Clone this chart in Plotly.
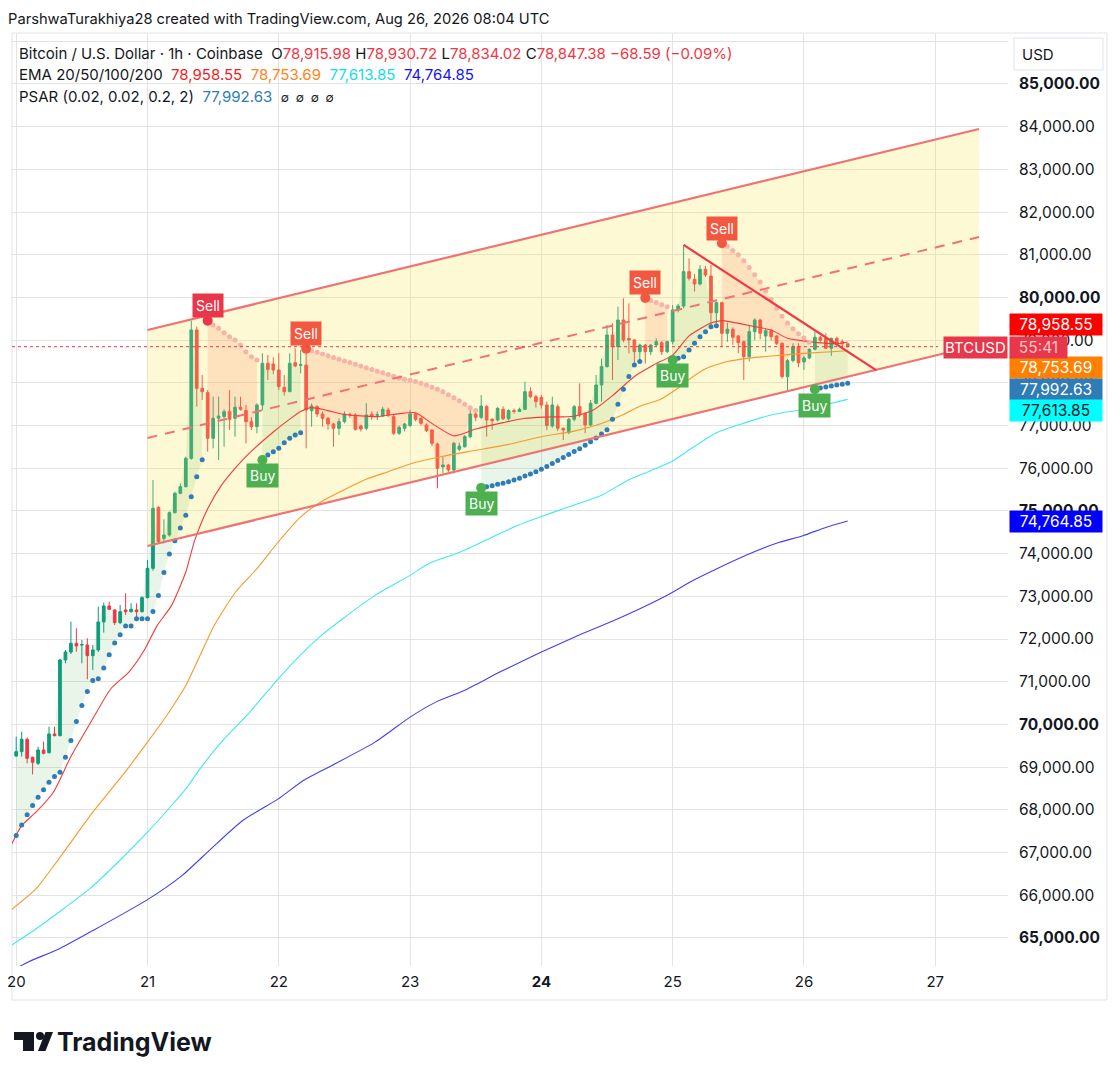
import datetime as dt
import plotly.graph_objects as go

# BTC/USD 1h candles (Coinbase), Aug 20 00:00 -> Aug 26 08:00 UTC
start = dt.datetime(2026, 8, 20)

opens = [69260, 69363, 69652, 69230, 69090, 69402, 69340, 69777, 69738, 71510,
         71697, 71900, 71860, 71861, 71611, 71744, 72400, 72775, 72681, 72384,
         72681, 72642, 72681, 72642, 72970, 73657, 75085, 74359, 74437, 74960,
         75413, 75569, 76233, 79239, 77872, 77771, 76701, 77170, 77209, 77326,
         77170, 77428, 77350, 77092, 76975, 77482, 78458, 78442, 78302, 77895,
         77795, 78474, 78410, 78419, 77349, 77443, 77271, 77170, 77037, 76936,
         77092, 77260, 77248, 76990, 76936, 77264, 77240, 77225, 77365, 77209,
         76819, 76936, 77000, 77271, 77170, 77014, 76896, 76569, 76030, 76077,
         75960, 76444, 76506, 76740, 77271, 77193, 77443, 77146, 77131, 77380,
         77160, 77350, 77330, 77380, 77794, 77677, 77660, 77480, 76990, 77443,
         76936, 76834, 77146, 77443, 77287, 77014, 77521, 77950, 78380, 79122,
         78848, 79473, 79040, 79005, 78731, 78887, 78731, 78887, 78942, 78731,
         78965, 79707, 79801, 80605, 80426, 80316, 80660, 80504, 79645, 79879,
         79161, 79255, 79098, 78965, 78614, 79200, 79473, 79098, 79223, 79098,
         78927, 78146, 78521, 78849, 78490, 78584, 78786, 79067, 79040, 78810,
         79044, 78966, 78915.98]
highs = [69714, 69831, 69700, 69250, 69480, 69597, 69948, 69948, 71540, 71744,
         72408, 72252, 71978, 72017, 71861, 72759, 72853, 72876, 72700, 72798,
         73071, 72837, 72837, 73000, 73852, 75725, 75110, 74804, 74990, 75452,
         75647, 76272, 79457, 79317, 78185, 77833, 77677, 77677, 77380, 77833,
         77677, 77677, 77482, 77200, 77520, 78692, 78653, 78600, 78692, 78185,
         78692, 78810, 78770, 78770, 77520, 77480, 77330, 77200, 77060, 77170,
         77330, 77300, 77290, 77020, 77521, 77330, 77330, 77440, 77420, 77250,
         77000, 77060, 77370, 77300, 77200, 77050, 76920, 76600, 76270, 76100,
         76620, 76600, 76780, 77400, 77300, 77716, 77480, 77180, 77430, 77450,
         77380, 77400, 77420, 78029, 77900, 77720, 77720, 77560, 77677, 77500,
         76960, 77180, 77480, 77990, 77300, 77600, 78185, 78570, 79356, 79395,
         79785, 79980, 79863, 79020, 78920, 78910, 78900, 79044, 78980, 78990,
         79824, 79850, 81230, 80917, 80550, 80760, 80740, 80760, 79900, 79900,
         79410, 79300, 79120, 78990, 79356, 79512, 79500, 79278, 79260, 79120,
         78950, 78560, 78927, 78927, 78630, 78810, 79200, 79100, 79161, 79060,
         79083, 79020, 78930.72]
lows = [69246, 69246, 69090, 68832, 69050, 69300, 69320, 69720, 69720, 71432,
        71650, 71705, 71432, 71057, 71276, 71700, 72150, 72680, 72330, 72350,
        72564, 72620, 72486, 72620, 72950, 73600, 74242, 74242, 74400, 74940,
        75390, 75550, 76200, 77443, 77600, 76389, 76467, 76194, 76506, 76897,
        76740, 77350, 76584, 76897, 76818, 77365, 78068, 78200, 77830, 77700,
        77780, 78370, 78220, 76467, 76975, 77200, 76975, 76900, 76506, 76780,
        77050, 77180, 76880, 76860, 76890, 77130, 77130, 77200, 77200, 76780,
        76780, 76860, 76970, 77100, 77000, 76850, 76520, 75530, 75880, 75880,
        75880, 76400, 76480, 76700, 77100, 77150, 76740, 76900, 77100, 77130,
        77120, 77280, 77330, 77360, 77640, 77420, 77400, 76890, 76950, 76870,
        76662, 76800, 77100, 77200, 76820, 76990, 77500, 77560, 78360, 78068,
        78536, 78950, 78692, 78458, 78536, 78450, 78650, 78850, 78650, 78700,
        78900, 79650, 79750, 80400, 80137, 80280, 80480, 79356, 79400, 78849,
        78960, 78890, 78692, 78068, 78500, 79000, 79020, 78731, 78990, 78888,
        78100, 77818, 78480, 78365, 78302, 78560, 78760, 78950, 78790, 78630,
        78880, 78860, 78834.02]
closes = [69363, 69652, 69207, 69113, 69402, 69324, 69777, 69738, 71510, 71697,
          71900, 71838, 71870, 71611, 71744, 72400, 72775, 72697, 72384, 72642,
          72642, 72697, 72642, 72970, 73657, 75062, 74281, 74437, 74960, 75413,
          75569, 76233, 79239, 77872, 77794, 76701, 77170, 77224, 77326, 77146,
          77428, 77381, 77092, 76975, 77482, 78458, 78317, 78302, 77911, 77794,
          78458, 78396, 78430, 77365, 77459, 77271, 77170, 77037, 76936, 77092,
          77271, 77248, 76912, 76920, 77248, 77209, 77255, 77381, 77248, 76819,
          76959, 77037, 77271, 77147, 77053, 76881, 76584, 75999, 76077, 75960,
          76584, 76522, 76740, 77271, 77193, 77459, 77131, 77115, 77404, 77160,
          77350, 77330, 77380, 77794, 77677, 77560, 77480, 77000, 77482, 76936,
          76897, 77146, 77443, 77248, 77014, 77521, 77950, 78380, 79122, 78848,
          79473, 79005, 79005, 78731, 78887, 78731, 78887, 78965, 78731, 78965,
          79707, 79801, 80605, 80449, 80316, 80660, 80527, 79645, 79879, 79161,
          79255, 79067, 78942, 78614, 79200, 79473, 79161, 79223, 79083, 78927,
          78146, 78521, 78849, 78474, 78584, 78786, 79067, 79000, 78810, 79044,
          78927, 78916, 78847.38]

# Parabolic SAR, one value per bar
psar = [67398, 67648, 67883, 68102, 68297, 68469, 68648, 68781, 68883, 69234,
        69625, 70070, 70445, 70773, 71031, 71070, 71320, 71633, 71906, 72102,
        72305, 72305, 72477, 72477, 72477, 72648, 73023, 73560, 73990, 74300,
        74600, 74900, 75330, 75800, 76200, 79457, 79356, 79278, 79176, 79082,
        79004, 78887, 78731, 78614, 78536, 76194, 76311, 76389, 76467, 76600,
        76702, 76780, 76834, 78800, 78755, 78715, 78675, 78635, 78595, 78555,
        78515, 78475, 78435, 78395, 78355, 78315, 78275, 78235, 78195, 78155,
        78115, 78085, 78060, 78030, 77990, 77950, 77900, 77850, 77790, 77720,
        77650, 77580, 77500, 77420, 77350, 75540, 75569, 75593, 75624, 75647,
        75686, 75725, 75765, 75819, 75866, 75921, 75975, 76040, 76110, 76180,
        76250, 76320, 76390, 76460, 76540, 76620, 76710, 76800, 76900, 77150,
        77500, 77850, 78150, 78420, 78500, 79990, 79930, 79880, 79830, 79780,
        78536, 78575, 78614, 78770, 78927, 79083, 79200, 79317, 79340, 81269,
        81200, 81100, 81000, 80860, 80700, 80530, 80360, 80150, 79950, 79750,
        79560, 79400, 79270, 79150, 79050, 78950, 77849, 77880, 77905, 77925,
        77948, 77970, 77992.63]
# PSAR trend runs: (first bar, last bar, direction)
psar_runs = [(0, 34, 'up'), (35, 44, 'down'), (45, 52, 'up'), (53, 84, 'down'),
             (85, 114, 'up'), (115, 119, 'down'), (120, 128, 'up'),
             (129, 145, 'down'), (146, 152, 'up')]

# EMAs: hours after Aug 20 00:00 and value
ema20_h = [-1, 1, 3.6, 6.8, 10, 14, 17.3, 20.6, 23.2, 25.8, 28.4, 31, 32.6, 35,
           37.5, 40, 43, 47, 50, 52, 54, 57, 60, 66, 70, 73, 76, 80, 84, 89, 93,
           97, 102, 105.5, 109, 113, 116.5, 120, 123, 127, 129, 135, 138, 141,
           145, 150, 152]
ema20 = [67150, 67630, 67945, 68414, 69250, 70133, 70836, 71227, 71695, 72320,
         72789, 73570, 74300, 75050, 75600, 76000, 76400, 76850, 77150, 77330,
         77420, 77350, 77260, 77210, 77280, 77300, 77050, 76760, 76920, 77068,
         77170, 77200, 77220, 77365, 77700, 78150, 78420, 78650, 79100, 79400,
         79457, 79317, 79239, 79044, 78966, 78920, 78958.55]
ema50_h = [-1, 3.6, 7.8, 14, 19.9, 24, 27.1, 31, 33.6, 36.2, 40.1, 44, 47.9,
           51.9, 55.8, 59.7, 64.3, 68, 72, 78, 84, 90, 96, 102, 107, 110.4, 114,
           117.7, 121, 123, 126, 130, 134, 138, 144, 152]
ema50 = [65650, 66148, 66852, 67945, 68883, 69586, 70133, 70914, 71617, 72320,
         73102, 73648, 74273, 74850, 75220, 75480, 75758, 75920, 76100, 76280,
         76420, 76560, 76740, 76870, 77050, 77222, 77455, 77611, 77880, 78080,
         78330, 78500, 78580, 78630, 78690, 78753.69]
ema100_h = [-1, 3.6, 7.8, 13.4, 18.6, 24, 28.4, 31, 33.6, 37.5, 42.7, 47.9,
            52.5, 55.8, 59.7, 65.6, 72, 75.4, 81.2, 87.1, 91.7, 96, 100.7,
            106.8, 111.6, 115.9, 120, 123.2, 128, 132.3, 138.4, 143.8, 148, 152]
ema100 = [64820, 65211, 65602, 66148, 66773, 67477, 68102, 68492, 68961, 69586,
          70289, 71070, 71695, 72086, 72477, 73023, 73492, 73766, 74039, 74391,
          74664, 74872, 75082, 75354, 75704, 75938, 76171, 76444, 76833, 77027,
          77261, 77377, 77494, 77613.85]
ema200_h = [-1, 2.3, 7.8, 14, 24, 30.3, 35.6, 41.4, 47.9, 52.5, 57.7, 65.6, 72,
            76.7, 81.9, 88.4, 96, 103, 110, 114, 118.9, 123.7, 128, 134.7,
            139.5, 143.8, 148, 152]
ema200 = [64220, 64445, 64742, 65172, 65898, 66461, 67086, 67750, 68258, 68688,
          69039, 69586, 70172, 70523, 70797, 71227, 71695, 72100, 72475, 72708,
          73019, 73370, 73642, 74031, 74265, 74420, 74615, 74764.85]

# Drawings: parallel channel and the falling trend line (hours, price)
channel_h = [24, 176]
channel_top = [79239, 83946]
channel_mid = [76709, 81417]
channel_bottom = [74180, 78887]
falling_h = [122, 157.2]
falling_line = [81230, 78300]

price_ticks = list(range(65000, 86001, 1000))
day_labels = ['20', '21', '22', '23', '<b>24</b>', '25', '26', '27']


def at(h):
    return start + dt.timedelta(hours=h)


times = [at(i) for i in range(len(closes))]

# The page adds an 8px body margin, so the figure is drawn 8px smaller and
# every screen position below is given in window pixels.
OFF = 8
W, H = 1120 - OFF, 1072 - OFF
PL, PR, PT, PB = 12 - OFF, 1008 - OFF, 33 - OFF, 966 - OFF


def px(x):
    return (x - OFF - PL) / (PR - PL)


def py(y):
    return (PB - (y - OFF)) / (PB - PT)


fig = go.Figure()

# yellow channel background
fig.add_trace(go.Scatter(
    x=[at(channel_h[0]), at(channel_h[1]), at(channel_h[1]), at(channel_h[0])],
    y=[channel_top[0], channel_top[1], channel_bottom[1], channel_bottom[0]],
    fill='toself', fillcolor='rgba(250,230,80,0.24)', mode='lines',
    line=dict(width=0), hoverinfo='skip'))

# PSAR shading between the dots and the close
for a, b, trend in psar_runs:
    xs = times[a:b + 1]
    fig.add_trace(go.Scatter(x=xs, y=closes[a:b + 1], mode='lines',
                             line=dict(width=0), hoverinfo='skip'))
    fill = 'rgba(76,175,80,0.13)' if trend == 'up' else 'rgba(255,99,71,0.16)'
    fig.add_trace(go.Scatter(x=xs, y=psar[a:b + 1], mode='lines',
                             line=dict(width=0), fill='tonexty',
                             fillcolor=fill, hoverinfo='skip'))

# EMA lines
for hs, vals, color in [(ema200_h, ema200, '#4040f0'), (ema100_h, ema100, '#3fe9f2'),
                        (ema50_h, ema50, '#f7992e'), (ema20_h, ema20, '#f23b3b')]:
    fig.add_trace(go.Scatter(x=[at(h) for h in hs], y=vals, mode='lines',
                             line=dict(color=color, width=1.1, shape='spline',
                                       smoothing=0.6),
                             hoverinfo='skip'))

fig.add_trace(go.Candlestick(
    x=times, open=opens, high=highs, low=lows, close=closes,
    increasing=dict(line=dict(color='#089981', width=1), fillcolor='#089981'),
    decreasing=dict(line=dict(color='#f23645', width=1), fillcolor='#f23645'),
    whiskerwidth=0, hoverinfo='skip'))

# PSAR dots
trend_of = {}
for a, b, trend in psar_runs:
    for i in range(a, b + 1):
        trend_of[i] = trend
up_dots = [v if trend_of[i] == 'up' else None for i, v in enumerate(psar)]
down_dots = [v if trend_of[i] == 'down' else None for i, v in enumerate(psar)]
fig.add_trace(go.Scatter(x=times, y=up_dots, mode='markers',
                         marker=dict(color='#2f7cb6', size=5), hoverinfo='skip'))
fig.add_trace(go.Scatter(x=times, y=down_dots, mode='markers',
                         marker=dict(color='#f6b3a9', size=5), hoverinfo='skip'))

# channel lines and the falling line
ch_x = [at(h) for h in channel_h]
fig.add_trace(go.Scatter(x=ch_x, y=channel_top, mode='lines',
                         line=dict(color='#f07272', width=2.2), hoverinfo='skip'))
fig.add_trace(go.Scatter(x=ch_x, y=channel_bottom, mode='lines',
                         line=dict(color='#f07272', width=2.2), hoverinfo='skip'))
fig.add_trace(go.Scatter(x=ch_x, y=channel_mid, mode='lines',
                         line=dict(color='#f07272', width=2, dash='10px,8px'),
                         hoverinfo='skip'))
fig.add_trace(go.Scatter(x=[at(h) for h in falling_h], y=falling_line, mode='lines',
                         line=dict(color='#f23645', width=2.2), hoverinfo='skip'))

# last price dotted line
fig.add_shape(type='line', xref='paper', yref='y', x0=0, x1=px(938),
              y0=closes[-1], y1=closes[-1],
              line=dict(color='#f23645', width=1, dash='dot'))

annotations = []

# Buy / Sell signals at every PSAR flip
sell_colors = ['#e8364a', '#f2583f', '#f2583f', '#f2583f']
n_sell = 0
knob_x, knob_y, knob_c = [], [], []
for a, b, trend in psar_runs[1:]:
    if trend == 'down':
        color = sell_colors[n_sell]
        n_sell += 1
        text, shift = 'Sell', 15
    else:
        color = '#4caf50'
        text, shift = 'Buy', -16
    knob_x.append(times[a])
    knob_y.append(psar[a])
    knob_c.append(color)
    annotations.append(dict(x=times[a], y=psar[a], xref='x', yref='y', text=text,
                            showarrow=False, yshift=shift, bgcolor=color,
                            font=dict(color='white', size=14), borderpad=3))
fig.add_trace(go.Scatter(x=knob_x, y=knob_y, mode='markers',
                         marker=dict(color=knob_c, size=10), hoverinfo='skip'))

# first day label sits on the left edge, plotly drops it, so write it by hand
annotations.append(dict(x=times[0], y=py(982), xref='x', yref='paper',
                        text=day_labels[0], showarrow=False, xanchor='center',
                        yanchor='middle', font=dict(size=15, color='#131722')))

# header
annotations.append(dict(
    x=px(6), y=py(19), xref='paper', yref='paper', xanchor='left', yanchor='middle',
    showarrow=False, font=dict(size=14.7, color='#131722'),
    text='ParshwaTurakhiya28 created with TradingView.com, Aug 26, 2026 08:04 UTC'))

red = '#f23645'
sp = '\u00a0'
row1 = ('Bitcoin / U.S. Dollar · 1h · Coinbase' + sp * 2
        + 'O<span style="color:%s">78,915.98</span>' % red + sp
        + 'H<span style="color:%s">78,930.72</span>' % red + sp
        + 'L<span style="color:%s">78,834.02</span>' % red + sp
        + 'C<span style="color:%s">78,847.38</span>' % red + sp
        + '<span style="color:%s">−68.59 (−0.09%%)</span>' % red)
row2 = ('EMA 20/50/100/200' + sp * 2
        + '<span style="color:#f41c24">78,958.55</span>' + sp * 2
        + '<span style="color:#ff8418">78,753.69</span>' + sp * 2
        + '<span style="color:#14dcec">77,613.85</span>' + sp * 2
        + '<span style="color:#1414f0">74,764.85</span>')
row3 = ('PSAR (0.02, 0.02, 0.2, 2)' + sp * 2
        + '<span style="color:#2f7cb6">77,992.63</span>' + sp * 2
        + '<span style="font-size:12px">∅' + sp * 2 + '∅' + sp * 2 + '∅'
        + sp * 2 + '∅</span>')
for row, yy in [(row1, 53), (row2, 74), (row3, 96)]:
    annotations.append(dict(x=px(17), y=py(yy), xref='paper', yref='paper',
                            xanchor='left', yanchor='middle', showarrow=False,
                            font=dict(size=15, color='#131722'), text=row))

# price scale boxes (value, background, text colour, shift away from value)
boxes = [(ema20[-1], '#ff0000', 'white', 17),
         (ema50[-1], '#ff7f00', 'white', -17),
         (psar[-1], '#2f7cb6', 'white', -6),
         (ema100[-1], '#00ffff', '#131722', -11),
         (ema200[-1], '#0000ff', 'white', 0)]
for val, bg, fg, shift in boxes:
    annotations.append(dict(x=1, y=val, xref='paper', yref='y', xanchor='left',
                            yanchor='middle', xshift=1, yshift=shift,
                            text=f'{val:,.2f}', showarrow=False, bgcolor=bg,
                            font=dict(color=fg, size=15.5), width=90, height=19,
                            borderpad=1, align='center'))
annotations.append(dict(x=1, y=closes[-1], xref='paper', yref='y', xanchor='left',
                        yanchor='middle', xshift=1, yshift=-1, text='55:41',
                        showarrow=False, bgcolor='#e8364a',
                        font=dict(color='#f8c4c8', size=15.5), width=55, height=19,
                        borderpad=1, align='center'))
annotations.append(dict(x=1, y=closes[-1], xref='paper', yref='y', xanchor='right',
                        yanchor='middle', yshift=-1, text='BTCUSD',
                        showarrow=False, bgcolor='#e8364a',
                        font=dict(color='white', size=15), height=19,
                        borderpad=1))

# USD unit box
annotations.append(dict(x=px(1020), y=py(54), xref='paper', yref='paper',
                        xanchor='left', yanchor='middle', text='USD',
                        showarrow=False, font=dict(size=15, color='#131722')))

# TradingView wordmark
annotations.append(dict(x=px(55), y=py(1042), xref='paper', yref='paper',
                        xanchor='left', yanchor='middle', text='<b>TradingView</b>',
                        showarrow=False, font=dict(size=25, color='#131722')))

shapes = [
    dict(type='rect', xref='paper', yref='paper', x0=px(12), x1=px(1107),
         y0=py(1000), y1=py(33), line=dict(color='#e0e3eb', width=1), layer='below'),
    dict(type='rect', xref='paper', yref='paper', x0=px(1014), x1=px(1103),
         y0=py(70), y1=py(38), line=dict(color='#e0e3eb', width=1),
         fillcolor='white'),
    dict(type='rect', xref='paper', yref='paper', x0=px(14), x1=px(34),
         y0=py(1040), y1=py(1032), fillcolor='#131722', line=dict(width=0)),
    dict(type='rect', xref='paper', yref='paper', x0=px(23), x1=px(34),
         y0=py(1051), y1=py(1032), fillcolor='#131722', line=dict(width=0)),
    dict(type='circle', xref='paper', yref='paper', x0=px(36), x1=px(44),
         y0=py(1040), y1=py(1032), fillcolor='#131722', line=dict(width=0)),
    dict(type='path', xref='paper', yref='paper', fillcolor='#131722',
         line=dict(width=0),
         path='M %f,%f L %f,%f L %f,%f L %f,%f Z' % (
             px(38), py(1051), px(45.5), py(1051), px(53), py(1032),
             px(45.5), py(1032))),
]
for s in shapes:
    fig.add_shape(**s)

fig.update_layout(
    width=W, height=H, autosize=False,
    margin=dict(l=PL, r=W - PR, t=PT, b=H - PB),
    paper_bgcolor='white', plot_bgcolor='white', showlegend=False,
    hovermode=False, font=dict(family='Inter, Roboto, sans-serif', color='#131722'),
    annotations=annotations,
    xaxis=dict(type='date', range=[at(-0.77), at(181.3)],
               tickvals=[at(24 * d) for d in range(len(day_labels))],
               ticktext=day_labels, showgrid=True, gridcolor='#e3e3e3',
               zeroline=False, showline=False, ticks='', tickfont=dict(size=15),
               rangeslider=dict(visible=False), ticklabelstandoff=5),
    yaxis=dict(side='right', range=[64343, 86194], tickvals=price_ticks,
               ticktext=['' if v > 85000 else
                         (f'<b>{v:,.2f}</b>' if v % 5000 == 0 else f'{v:,.2f}')
                         for v in price_ticks],
               showgrid=True, gridcolor='#e3e3e3', zeroline=False, showline=False,
               ticks='', tickfont=dict(size=15.5), ticklabelstandoff=10),
)

fig.write_html('out.html')
